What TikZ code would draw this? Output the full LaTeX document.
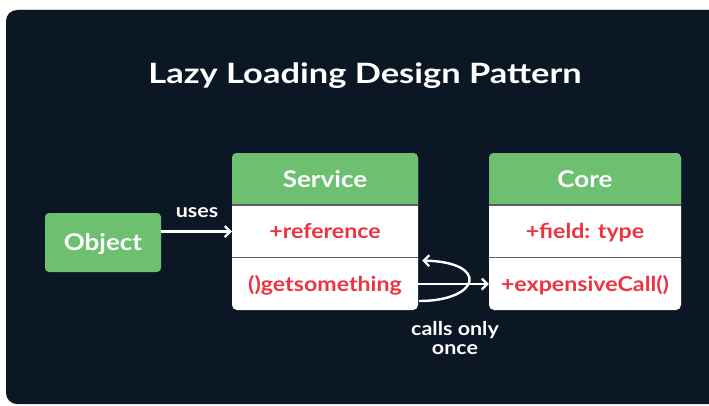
\documentclass[tikz,border=0pt]{standalone}
\usepackage{fontspec}
\setmainfont{Lato}[FakeStretch=1.13]
\newfontfamily\headfont{Lato}[FakeStretch=1.23]
\usetikzlibrary{arrows.meta,calc}

\definecolor{panel}{HTML}{0C1725}
\definecolor{hdrgreen}{HTML}{6CC070}
\definecolor{memred}{HTML}{EE3340}
\definecolor{rule}{HTML}{5E5E5E}

\tikzset{
  hdr/.style={minimum height=52pt, inner sep=0pt, text=white,
              text height=17pt, text depth=0pt,
              font=\fontsize{23}{26}\selectfont\bfseries},
  member/.style={minimum height=52.5pt, inner sep=0pt, text=memred,
              text height=14pt, text depth=-2pt,
              font=\fontsize{20.5}{24}\selectfont\bfseries},
  label/.style={text=white, inner sep=0pt, align=center,
              font=\fontsize{19}{18.5}\selectfont\bfseries},
  link/.style={draw=white, line width=2.4pt,
              -{Straight Barb[length=5.5pt,width=11pt,line width=2.2pt]}},
  divider/.style={draw=rule, line width=1.3pt},
}

\begin{document}
\begin{tikzpicture}[x=1pt, y=-1pt]
  \useasboundingbox (0,0) rectangle (709,405);
  % page backdrop
  \fill[white] (0,0) rectangle (709,405);
  \draw[black!18, line width=0.8pt] (18,9) -- (709,9);
  \fill[panel, rounded corners=11pt] (6,10) rectangle (730,404);

  % title
  \node[text=white, inner sep=0pt, text height=19pt, text depth=0pt,
        font=\headfont\fontsize{28}{32}\selectfont\bfseries] (title) at (365,73.8)
    {Lazy Loading Design Pattern};

  % client object
  \node[fill=hdrgreen, rounded corners=4pt, minimum width=116pt, minimum height=59pt,
        inner sep=0pt, text=white, text height=15pt, text depth=0pt,
        font=\fontsize{23}{26}\selectfont\bfseries]
        (obj) at (103,242.5) {Object};

  % Service class box
  \fill[white, rounded corners=5pt] (232,153) rectangle (418,310);
  \begin{scope}
    \clip[rounded corners=5pt] (232,153) rectangle (418,310);
    \fill[hdrgreen] (232,153) rectangle (418,205);
  \end{scope}
  \node[hdr, minimum width=186pt] (svc) at (325,179) {Service};
  \node[member, minimum width=186pt] (svcref) at (325,231.5) {+reference};
  \node[member, minimum width=186pt] (svcget) at (325,284) {()getsomething};
  \draw[divider] (svcref.north west) -- (svcref.north east);
  \draw[divider] (svcget.north west) -- (svcget.north east);

  % Core class box
  \fill[white, rounded corners=5pt] (489,153) rectangle (681,310);
  \begin{scope}
    \clip[rounded corners=5pt] (489,153) rectangle (681,310);
    \fill[hdrgreen] (489,153) rectangle (681,205);
  \end{scope}
  \node[hdr, minimum width=192pt] (core) at (585,179) {Core};
  \node[member, minimum width=192pt] (corefld) at (585,231.5) {+field: type};
  \node[member, minimum width=192pt] (coreexp) at (585,284) {+expensiveCall()};
  \draw[divider] (corefld.north west) -- (corefld.north east);
  \draw[divider] (coreexp.north west) -- (coreexp.north east);

  % uses
  \draw[link] (svcref.west -| obj.east) -- (svcref.west);
  \node[label] (uses) at (197,212.5) {uses};

  % call forwarded to the expensive method
  \draw[link] (svcget.east) -- (coreexp.west);

  % cached result returned on later calls
  \coordinate (loopstart) at ($(svcget.east)+(1,17)$);
  \coordinate (loopend) at ($(svcget.north east)+(4,3)$);
  \draw[link] (loopstart) .. controls ($(svcget.east)+(62,17)$)
                           and ($(svcget.east)+(72,-22)$) .. (loopend);
  \node[label, anchor=north] (once) at (455,321.5) {calls only\\once};
\end{tikzpicture}
\end{document}
